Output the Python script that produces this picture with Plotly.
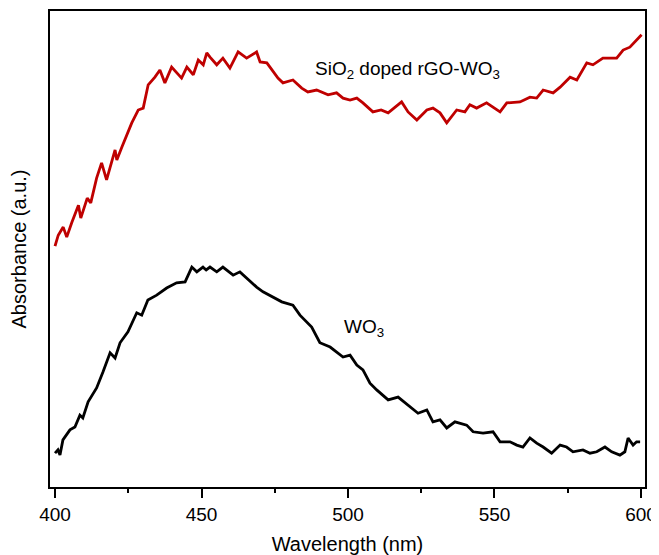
import plotly.graph_objects as go

# SiO2 doped rGO-WO3 (red)
wl_red = [400.0, 401.1, 402.8, 404.0, 405.7, 408.0, 408.8, 411.0, 412.2, 414.2, 415.9, 417.6,
          420.5, 421.1, 422.8, 426.2, 428.4, 430.1, 431.8, 434.1, 435.8, 437.5, 439.8, 443.2,
          445.0, 447.2, 448.9, 450.6, 451.8, 452.9, 455.2, 457.3, 459.7, 462.5, 465.4, 468.8,
          470.0, 472.3, 476.1, 477.8, 481.2, 484.2, 486.3, 489.3, 493.2, 496.1, 498.3, 500.7,
          503.0, 505.1, 508.5, 511.3, 513.7, 516.0, 518.3, 520.5, 523.5, 526.9, 529.0, 531.4,
          533.7, 537.1, 539.9, 541.6, 543.9, 547.3, 551.9, 554.2, 558.7, 562.1, 564.4, 566.6,
          570.0, 572.4, 575.8, 578.1, 581.5, 583.6, 587.0, 591.7, 593.9, 596.2, 600.2]
abs_red = [0.506, 0.529, 0.546, 0.525, 0.555, 0.592, 0.565, 0.607, 0.597, 0.649, 0.681, 0.645,
           0.708, 0.687, 0.714, 0.765, 0.792, 0.796, 0.845, 0.861, 0.876, 0.849, 0.882, 0.859,
           0.882, 0.866, 0.897, 0.887, 0.912, 0.903, 0.887, 0.901, 0.880, 0.914, 0.901, 0.914,
           0.893, 0.891, 0.859, 0.849, 0.855, 0.838, 0.830, 0.834, 0.824, 0.828, 0.817, 0.813,
           0.817, 0.807, 0.788, 0.792, 0.786, 0.798, 0.809, 0.788, 0.771, 0.792, 0.796, 0.786,
           0.765, 0.792, 0.788, 0.803, 0.796, 0.807, 0.788, 0.807, 0.809, 0.819, 0.817, 0.834,
           0.828, 0.840, 0.861, 0.855, 0.891, 0.887, 0.901, 0.901, 0.918, 0.924, 0.950]

# WO3 (black)
wl_blk = [400.0, 401.0, 401.7, 402.7, 405.1, 406.8, 408.5, 409.5, 411.3, 414.2, 416.4, 418.8,
          420.5, 422.2, 424.9, 427.9, 429.6, 431.7, 434.7, 438.1, 441.5, 444.4, 446.7, 448.4,
          450.5, 451.6, 452.9, 455.2, 457.3, 460.8, 463.1, 465.4, 468.8, 471.0, 474.4, 477.4,
          481.2, 483.6, 487.6, 490.4, 493.9, 498.3, 500.7, 503.0, 505.1, 507.5, 509.8, 513.7,
          517.1, 521.2, 523.9, 526.9, 529.0, 531.4, 533.7, 536.5, 540.5, 542.7, 546.1, 549.5,
          551.9, 555.3, 557.6, 559.7, 562.1, 564.4, 566.6, 569.5, 572.4, 574.6, 576.8, 580.2,
          582.6, 584.9, 587.7, 590.0, 592.8, 594.5, 595.6, 597.3, 598.5, 599.7]
abs_blk = [0.071, 0.078, 0.067, 0.099, 0.120, 0.126, 0.151, 0.145, 0.179, 0.208, 0.242, 0.282,
           0.271, 0.303, 0.326, 0.366, 0.361, 0.393, 0.403, 0.418, 0.429, 0.431, 0.462, 0.452,
           0.462, 0.456, 0.462, 0.452, 0.462, 0.445, 0.452, 0.439, 0.420, 0.410, 0.399, 0.389,
           0.382, 0.361, 0.336, 0.303, 0.294, 0.273, 0.277, 0.256, 0.246, 0.218, 0.204, 0.183,
           0.189, 0.168, 0.155, 0.162, 0.137, 0.141, 0.124, 0.137, 0.130, 0.116, 0.113, 0.116,
           0.095, 0.095, 0.088, 0.084, 0.103, 0.092, 0.084, 0.071, 0.088, 0.084, 0.074, 0.078,
           0.071, 0.074, 0.084, 0.074, 0.067, 0.074, 0.103, 0.088, 0.095, 0.095]

x_ticks = [400, 450, 500, 550, 600]
FONT = "Liberation Sans, Arial, sans-serif"

fig = go.Figure()
fig.add_trace(go.Scatter(x=wl_red, y=abs_red, mode="lines",
                         line=dict(color="#bf0000", width=2.8), name="SiO2 doped rGO-WO3"))
fig.add_trace(go.Scatter(x=wl_blk, y=abs_blk, mode="lines",
                         line=dict(color="black", width=2.8), name="WO3"))

fig.add_annotation(x=488.1, y=0.876, text="SiO<sub>2</sub> doped rGO-WO<sub>3</sub>",
                   showarrow=False, xanchor="left", yanchor="middle",
                   font=dict(family=FONT, size=19, color="black"))
fig.add_annotation(x=497.8, y=0.334, text="WO<sub>3</sub>",
                   showarrow=False, xanchor="left", yanchor="middle",
                   font=dict(family=FONT, size=19, color="black"))

fig.update_layout(
    width=651, height=547,
    margin=dict(l=42, r=14, t=3, b=68),
    paper_bgcolor="white", plot_bgcolor="white",
    showlegend=False,
    font=dict(family=FONT, size=19, color="black"),
    xaxis=dict(range=[398.29, 601.37], tickvals=x_ticks, ticks="outside", ticklen=9,
               tickwidth=2, tickcolor="black", showline=True, linewidth=2, linecolor="black",
               mirror=True, showgrid=False, zeroline=False, automargin=False,
               minor=dict(dtick=25, tick0=400, ticks="outside", ticklen=4, tickwidth=2,
                          tickcolor="black", showgrid=False),
               tickfont=dict(family=FONT, size=19),
               title=dict(text="Wavelength (nm)", font=dict(family=FONT, size=20), standoff=15)),
    yaxis=dict(range=[0, 1], showticklabels=False, ticks="", showline=True, linewidth=2,
               linecolor="black", mirror=True, showgrid=False, zeroline=False, automargin=False,
               title=dict(text="Absorbance (a.u.)", font=dict(family=FONT, size=20), standoff=17)),
)

fig.write_html("out.html")
